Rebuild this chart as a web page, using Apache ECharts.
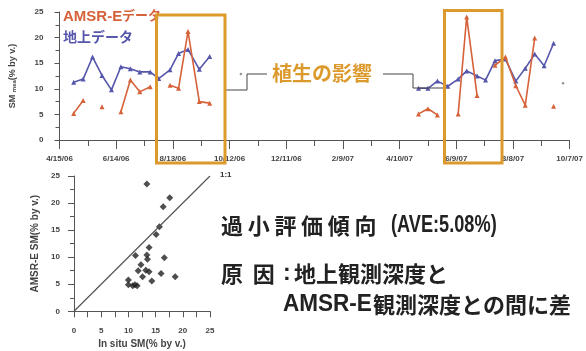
<!DOCTYPE html>
<html>
<head>
<meta charset="utf-8">
<script src="https://cdn.jsdelivr.net/npm/echarts@6/dist/echarts.min.js"></script>
<style>
  html, body { margin: 0; padding: 0; background: #ffffff; }
  #chart { width: 586px; height: 351px; }
</style>
</head>
<body>
<div id="chart"></div>
<script>
// Observation dates (10-day composites), 2006 and 2007 seasons
const obsDates = ['2006-04-30', '2006-05-10', '2006-05-20', '2006-05-30', '2006-06-09', '2006-06-19',
  '2006-06-29', '2006-07-09', '2006-07-20', '2006-07-29', '2006-08-10', '2006-08-19', '2006-08-29',
  '2006-09-10', '2006-09-21',
  '2007-04-30', '2007-05-10', '2007-05-20', '2007-05-31', '2007-06-11', '2007-06-20', '2007-07-01',
  '2007-07-10', '2007-07-20', '2007-07-31', '2007-08-11', '2007-08-21', '2007-08-31', '2007-09-10',
  '2007-09-20'];
// In situ soil moisture (% by volume)
const groundSM = [11.3, 11.9, 16.2, 12.6, 9.8, 14.3, 13.9, 13.3, 13.3, 12.0, 13.7, 16.9, 17.7, 13.8, 16.3,
  10.1, 10.1, 11.5, 10.5, 11.9, 13.5, 12.5, 11.7, 15.5, 15.8, 11.5, 14.0, 16.8, 14.5, 18.9];
// AMSR-E soil moisture (% by volume); null = no retrieval
const amsrSM = [5.2, 7.7, null, 6.5, null, 5.5, 11.7, 9.4, 10.4, null, 10.7, 10.1, 21.2, 7.5, 7.2,
  5.1, 6.1, 4.9, null, 5.1, 24.0, 8.7, null, 14.6, 16.2, 10.6, 6.8, 19.9, null, 6.6];
// Single isolated readings
const strayDates = ['2006-10-24', '2007-09-30'];
const strayValues = [12.9, 11.1];

// Axis tick labels of the time series (every 60 days from the start date)
const startDate = '2006-04-15';
const xTickLabels = ['4/15/06', '6/14/06', '8/13/06', '10/12/06', '12/11/06', '2/9/07', '4/10/07',
  '6/9/07', '8/8/07', '10/7/07'];

// Scatter: in situ vs AMSR-E
const scatterInsitu = [13.4, 17.6, 16.4, 15.7, 15.1, 13.8, 13.4, 11.3, 16.6, 13.5, 12.3, 13.2, 11.8,
  13.8, 16.0, 12.6, 14.3, 18.6, 10.0, 10.0, 11.2, 11.6, 10.8];
const scatterAmsr = [23.5, 21.0, 19.3, 15.6, 14.2, 11.8, 10.4, 10.3, 9.9, 9.6, 8.6, 7.6, 7.5, 7.3,
  7.0, 6.4, 5.6, 6.4, 5.8, 4.9, 4.9, 4.7, 4.7];

const DAY = 86400000;
const dayOf = d => (Date.parse(d) - Date.parse(startDate)) / DAY;

// Build [day, value] pairs; a long gap between seasons breaks the line
function buildSeries(vals) {
  const out = [];
  for (let i = 0; i < obsDates.length; i++) {
    const x = dayOf(obsDates[i]);
    if (i > 0 && x - dayOf(obsDates[i - 1]) > 40) out.push([x - 20, '-']);
    out.push([x, vals[i] == null ? '-' : vals[i]]);
  }
  return out;
}

const RED = '#d6623a';
const BLUE = '#5656ac';
const ORANGE = '#dc9a2c';
const AX = '#555555';
const NARROW = '"Liberation Sans Narrow", "Arial Narrow", "Liberation Sans", Arial, sans-serif';
const JP = '"Noto Sans CJK JP", "Noto Sans", sans-serif';
const MIXED = '"Liberation Sans", "Noto Sans CJK JP", sans-serif';

const axisLabelStyle = { fontSize: 8, color: '#444', fontFamily: NARROW, fontWeight: 'bold' };

const chart = echarts.init(document.getElementById('chart'), null, { renderer: 'canvas' });

// Letter-spaced text drawn glyph by glyph
function spaced(str, x, y, pitch, style) {
  return Array.from(str).map((ch, i) => ({
    type: 'text', left: x + i * pitch, top: y, z: 10,
    style: Object.assign({ text: ch }, style)
  }));
}

const bigText = { font: 'bold 22px ' + JP, fill: '#222' };
const bigLatin = { font: 'bold 23px ' + NARROW, fill: '#222' };

const graphics = [
  // legend texts
  { type: 'text', left: 63, top: 9, style: { text: 'AMSR-E', font: 'bold 15px ' + MIXED, fill: RED } },
  { type: 'text', left: 122, top: 9, style: { text: 'データ', font: 'bold 13px ' + JP, fill: RED } },
  { type: 'text', left: 63, top: 30, style: { text: '地上データ', font: 'bold 14px ' + JP, fill: BLUE } },
  // vegetation-affected periods
  { type: 'rect', shape: { x: 156.5, y: 15, width: 68.5, height: 148 }, z: 20,
    style: { fill: 'none', stroke: ORANGE, lineWidth: 3 } },
  { type: 'rect', shape: { x: 444.5, y: 10.5, width: 57.5, height: 152.5 }, z: 20,
    style: { fill: 'none', stroke: ORANGE, lineWidth: 3 } },
  { type: 'polyline', shape: { points: [[226, 90], [247, 90], [247, 74], [267, 74]] }, z: 5,
    style: { stroke: '#444', lineWidth: 1, fill: null } },
  { type: 'polyline', shape: { points: [[383, 74], [413, 74], [413, 88], [444, 88]] }, z: 5,
    style: { stroke: '#444', lineWidth: 1, fill: null } },
  { type: 'text', left: 272, top: 63, style: { text: '植生の影響', font: 'bold 20px ' + JP, fill: ORANGE } },
  // findings
  ...spaced('過小評価傾向', 221, 215, 26.7, bigText),
  { type: 'text', x: 391, y: 214, scaleX: 0.79, style: Object.assign({ text: '(AVE:5.08%)' }, bigLatin) },
  ...spaced('原因', 221, 263, 31.7, bigText),
  { type: 'text', left: 283, top: 262, style: Object.assign({ text: ':' }, bigLatin) },
  { type: 'text', left: 294, top: 263, style: Object.assign({ text: '地上観測深度と' }, bigText) },
  { type: 'text', x: 283, y: 293, scaleX: 0.98, style: Object.assign({ text: 'AMSR-E' }, bigLatin) },
  { type: 'text', left: 373, top: 294, style: Object.assign({ text: '観測深度との間に差' }, bigText) }
];

chart.setOption({
  animation: false,
  backgroundColor: '#ffffff',
  grid: [
    { left: 53, right: 13, top: 12, height: 128 },
    { left: 74, top: 176, width: 136, height: 135.3 }
  ],
  xAxis: [
    {
      gridIndex: 0, type: 'value', min: 0, max: 540, interval: 60,
      axisLine: { lineStyle: { color: AX, width: 1 } },
      axisTick: { length: 9, lineStyle: { color: AX } },
      minorTick: { show: true, splitNumber: 2, length: 6, lineStyle: { color: AX } },
      splitLine: { show: false },
      axisLabel: Object.assign({ margin: 15, formatter: v => xTickLabels[Math.round(v / 60)] || '' }, axisLabelStyle)
    },
    {
      gridIndex: 1, type: 'value', min: 0, max: 25, interval: 5,
      axisLine: { lineStyle: { color: AX } },
      axisTick: { length: 6, lineStyle: { color: AX } },
      minorTick: { show: true, splitNumber: 2, length: 6, lineStyle: { color: AX } },
      splitLine: { show: false },
      axisLabel: Object.assign({ margin: 15 }, axisLabelStyle),
      name: 'In situ SM(% by v.)', nameLocation: 'middle', nameGap: 28,
      nameTextStyle: { fontSize: 10, color: '#444', fontFamily: NARROW, fontWeight: 'bold' }
    }
  ],
  yAxis: [
    {
      gridIndex: 0, type: 'value', min: 0, max: 25, interval: 5,
      axisLine: { show: true, lineStyle: { color: AX } },
      axisTick: { show: true, length: 5, lineStyle: { color: AX } },
      minorTick: { show: true, splitNumber: 2, length: 4, lineStyle: { color: AX } },
      splitLine: { show: false },
      axisLabel: Object.assign({ margin: 16 }, axisLabelStyle),
      name: '{a|SM }{s|mea}{a|(% by v.)}', nameLocation: 'middle', nameGap: 42, nameRotate: 90,
      nameTextStyle: {
        rich: {
          a: { fontSize: 9, color: '#444', fontFamily: NARROW, fontWeight: 'bold' },
          s: { fontSize: 6, color: '#444', fontFamily: NARROW, fontWeight: 'bold', padding: [4, 0, 0, 0] }
        }
      }
    },
    {
      gridIndex: 1, type: 'value', min: 0, max: 25, interval: 5,
      axisLine: { show: true, lineStyle: { color: AX } },
      axisTick: { show: true, length: 6, lineStyle: { color: AX } },
      minorTick: { show: true, splitNumber: 2, length: 4, lineStyle: { color: AX } },
      splitLine: { show: false },
      axisLabel: Object.assign({ margin: 14 }, axisLabelStyle),
      name: 'AMSR-E SM(% by v.)', nameLocation: 'middle', nameGap: 34, nameRotate: 90,
      nameTextStyle: { fontSize: 10, color: '#444', fontFamily: NARROW, fontWeight: 'bold' }
    }
  ],
  series: [
    {
      name: '地上データ', type: 'line', xAxisIndex: 0, yAxisIndex: 0,
      data: buildSeries(groundSM), connectNulls: false,
      symbol: 'triangle', symbolSize: 5, showAllSymbol: true,
      lineStyle: { color: BLUE, width: 1.6 }, itemStyle: { color: BLUE }, z: 3
    },
    {
      name: 'AMSR-Eデータ', type: 'line', xAxisIndex: 0, yAxisIndex: 0,
      data: buildSeries(amsrSM), connectNulls: false,
      symbol: 'triangle', symbolSize: 5, showAllSymbol: true,
      lineStyle: { color: RED, width: 1.6 }, itemStyle: { color: RED }, z: 4
    },
    {
      type: 'scatter', xAxisIndex: 0, yAxisIndex: 0,
      data: strayDates.map((d, i) => [dayOf(d), strayValues[i]]),
      symbol: 'circle', symbolSize: 2.5, itemStyle: { color: '#777' }
    },
    {
      type: 'line', xAxisIndex: 1, yAxisIndex: 1,
      data: [[0, 0], [25, 25]], showSymbol: false, symbol: 'none',
      lineStyle: { color: '#555', width: 1.2 },
      endLabel: { show: true, formatter: '1:1', offset: [2, -1], fontSize: 8, fontWeight: 'bold',
        color: '#333', fontFamily: NARROW }
    },
    {
      type: 'scatter', xAxisIndex: 1, yAxisIndex: 1,
      data: scatterInsitu.map((v, i) => [v, scatterAmsr[i]]),
      symbol: 'diamond', symbolSize: 7, itemStyle: { color: '#222' }
    }
  ],
  graphic: graphics
});
</script>
</body>
</html>
